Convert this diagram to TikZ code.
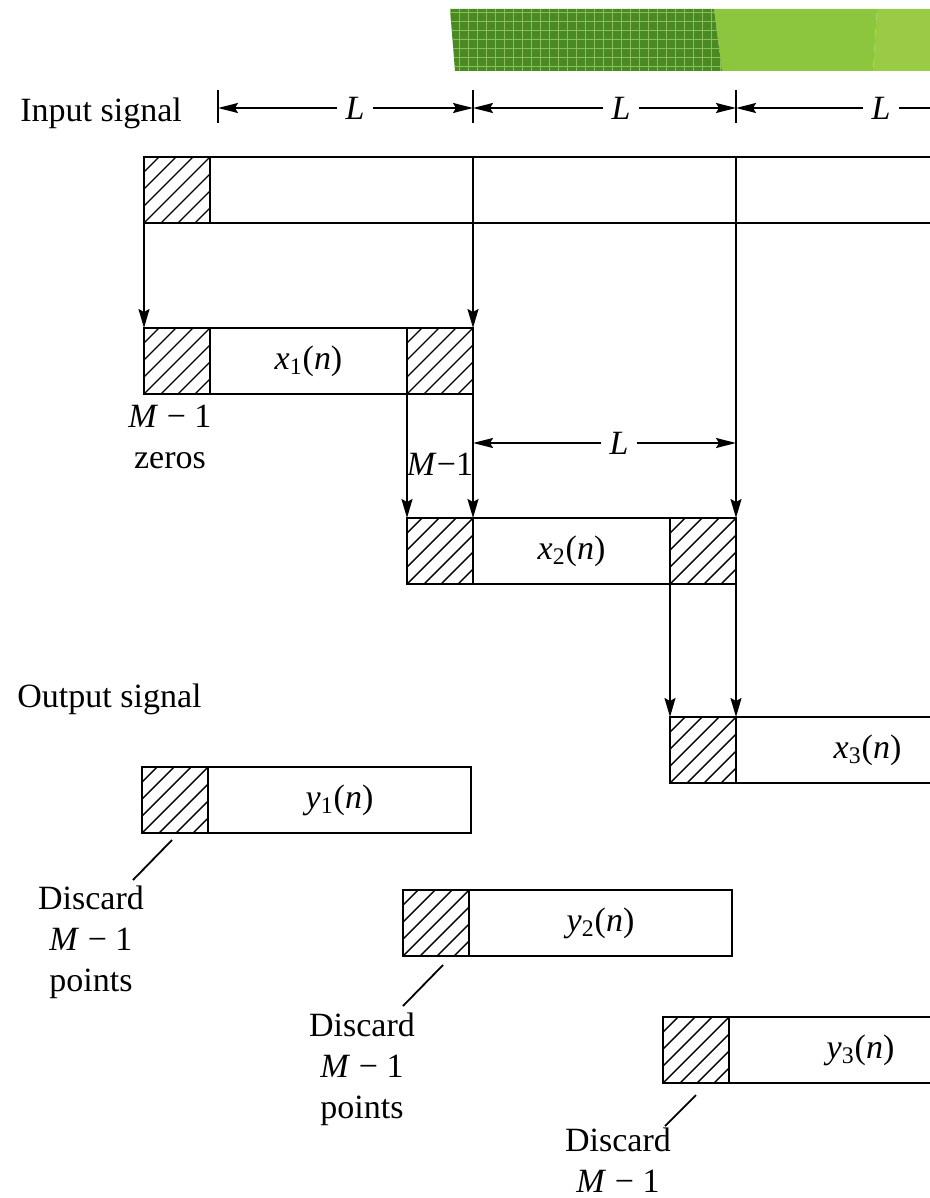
\documentclass[tikz,border=0pt]{standalone}
\usepackage{fontspec}
\setmainfont{Liberation Serif}
\usetikzlibrary{positioning,arrows.meta}

\newcommand{\lblfont}{\fontsize{17}{20.5}\selectfont}
\newcommand{\blk}[2]{\textit{#1}\textsubscript{#2}(\textit{n})}

\definecolor{bandark}{RGB}{74,138,34}
\definecolor{bandgrid}{RGB}{140,188,92}
\definecolor{bandmid}{RGB}{140,198,62}
\definecolor{bandlight}{RGB}{153,204,68}

\tikzset{
  txt/.style={inner sep=0pt, font=\lblfont},
  hatched/.style={draw, line width=1.1pt, minimum width=33pt, minimum height=33pt,
    inner sep=0pt, outer sep=0pt,
    path picture={\foreach \k in {-5,...,5}
      \draw[line width=0.7pt] (path picture bounding box.south west) ++(\k*8.5pt,0pt) -- ++(45pt,45pt);}},
  segbox/.style={draw, line width=1.1pt, minimum height=33pt, inner sep=0pt, outer sep=0pt, font=\lblfont},
  feed/.style={line width=1pt, -{Stealth[length=9.5pt,width=5.5pt,inset=1.5pt]}},
  dimline/.style={line width=0.9pt, -{Stealth[length=10pt,width=5pt,inset=1.5pt]}},
}

\begin{document}
\begin{tikzpicture}[x=0.5pt,y=-0.5pt]
\useasboundingbox (0,0) rectangle (930,1198);
\clip (0,0) rectangle (930,1198);

% banner
\fill[bandlight] (877,9) -- (930,9) -- (930,71) -- (873,71) -- cycle;
\fill[bandmid] (714,9) -- (877,9) -- (873,71) -- (722,71) -- cycle;
\begin{scope}
  \clip (450,9) -- (714,9) -- (722,71) -- (455,71) -- cycle;
  \fill[bandark] (440,0) rectangle (730,80);
  \foreach \g in {450,459,...,725} {\draw[bandgrid, line width=0.5pt] (\g,9) -- (\g,71);}
  \foreach \g in {13,22,...,71} {\draw[bandgrid, line width=0.5pt] (445,\g) -- (725,\g);}
\end{scope}

% input signal and its blocks of length L
\node[txt, anchor=base west] (insig) at (20,122) {Input signal};
\foreach \t in {218,473,736} {\draw[line width=0.9pt] (\t,90) -- (\t,123);}
\coordinate (t0) at (218,108);
\coordinate (t1) at (473,108);
\coordinate (t2) at (736,108);
\coordinate (t3) at (945,108);
\node[txt, inner sep=4pt] (L1) at (355,108) {\textit{L}};
\node[txt, inner sep=4pt] (L2) at (621,108) {\textit{L}};
\node[txt, inner sep=4pt] (L3) at (881,108) {\textit{L}};
\draw[dimline] (L1.west) -- (t0);
\draw[dimline] (L1.east) -- (t1);
\draw[dimline] (L2.west) -- (t1);
\draw[dimline] (L2.east) -- (t2);
\draw[dimline] (L3.west) -- (t2);
\draw[line width=0.9pt] (L3.east) -- (t3);

\node[hatched, anchor=north west] (inh) at (144,157) {};
\node[segbox, right=0pt of inh, minimum width=420pt] (inblk) {};

% overlapping input blocks
\node[hatched, anchor=north west] (x1h) at (144,328) {};
\node[segbox, right=0pt of x1h, minimum width=98.5pt] (x1) {\blk{x}{1}};
\node[hatched, right=0pt of x1] (x1r) {};

\node[hatched, anchor=north west] (x2h) at (407,518) {};
\node[segbox, right=0pt of x2h, minimum width=98.5pt] (x2) {\blk{x}{2}};
\node[hatched, right=0pt of x2] (x2r) {};

\node[hatched, anchor=north west] (x3h) at (670,717) {};
\node[segbox, right=0pt of x3h, minimum width=131.5pt] (x3) {\blk{x}{3}};

\draw[feed] (inh.south west) -- (x1h.north west);
\draw[feed] (x1r.north east |- inblk.north) -- (x1r.north east);
\draw[feed] (x2r.north east |- inblk.north) -- (x2r.north east);
\draw[feed] (x1r.south west) -- (x2h.north west);
\draw[feed] (x1r.south east) -- (x2h.north east);
\draw[feed] (x2r.south west) -- (x3h.north west);
\draw[feed] (x2r.south east) -- (x3h.north east);

\node[txt, align=center, anchor=north] (zeros) at (170,405) {\textit{M} − 1\\zeros};
\node[txt] (ovl) at (440,464) {\textit{M}−1};
\node[txt, inner sep=4pt] (L4) at (619,443) {\textit{L}};
\draw[dimline] (L4.west) -- (L4.west -| x1r.east);
\draw[dimline] (L4.east) -- (L4.east -| x2r.east);

% output blocks
\node[txt, anchor=base west] (outsig) at (17,707) {Output signal};

\node[hatched, anchor=north west] (y1h) at (142,767) {};
\node[segbox, right=0pt of y1h, minimum width=131.5pt] (y1) {\blk{y}{1}};
\node[hatched, anchor=north west] (y2h) at (403,890) {};
\node[segbox, right=0pt of y2h, minimum width=131.5pt] (y2) {\blk{y}{2}};
\node[hatched, anchor=north west] (y3h) at (663,1017) {};
\node[segbox, right=0pt of y3h, minimum width=131.5pt] (y3) {\blk{y}{3}};

\node[txt, align=center, anchor=north] (dc1) at (91,885) {Discard\\\textit{M} − 1\\points};
\node[txt, align=center, anchor=north] (dc2) at (362,1012) {Discard\\\textit{M} − 1\\points};
\node[txt, align=center, anchor=north] (dc3) at (618,1127) {Discard\\\textit{M} − 1};
\draw[line width=0.9pt] ([shift={(-3,7)}]y1h.south) -- ([shift={(42,-5)}]dc1.north);
\draw[line width=0.9pt] ([shift={(7,9)}]y2h.south) -- ([shift={(41,-6)}]dc2.north);
\draw[line width=0.9pt] ([shift={(0,12)}]y3h.south) -- ([shift={(47,-1)}]dc3.north);
\end{tikzpicture}
\end{document}
